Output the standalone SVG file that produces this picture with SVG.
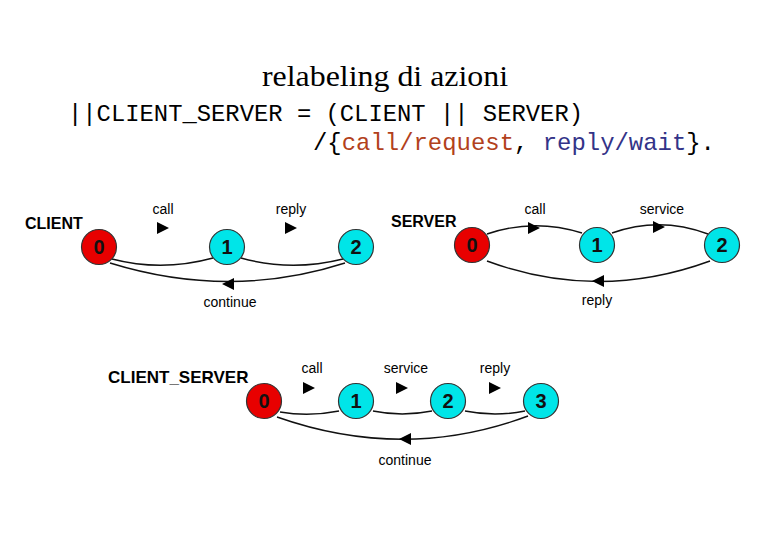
<svg xmlns="http://www.w3.org/2000/svg" width="780" height="540" viewBox="0 0 780 540">
<style>
.title{font-family:"Liberation Serif",serif;font-size:30px;fill:#000}
.code{font-family:"Liberation Mono",monospace;font-size:24px;fill:#000}
.req{fill:#B2411C}
.wait{fill:#333388}
.lbl{font-family:"Liberation Sans",Arial,sans-serif;font-size:14px;fill:#000;text-anchor:middle}
.name{font-family:"Liberation Sans",Arial,sans-serif;font-size:16px;font-weight:bold;fill:#000}
.num{font-family:"Liberation Sans",Arial,sans-serif;font-size:20px;font-weight:bold;fill:#111;text-anchor:middle}
.st0{fill:#E80000;stroke:#333;stroke-width:1.2}
.st{fill:#00E5E8;stroke:#333;stroke-width:1.2}
.edge{fill:none;stroke:#111;stroke-width:1.4}
.ah{fill:#000}
</style>
<defs>
<path id="tri" d="M-6,-6 L6,0 L-6,6 Z"/>
<path id="tril" d="M6,-6 L-6,0 L6,6 Z"/>
</defs>
<rect width="780" height="540" fill="#fff"/>
<text class="title" x="385" y="86" text-anchor="middle" textLength="246" lengthAdjust="spacingAndGlyphs">relabeling di azioni</text>
<text class="code" x="68" y="121" textLength="515" lengthAdjust="spacingAndGlyphs">||CLIENT_SERVER = (CLIENT || SERVER)</text>
<text class="code" x="313" y="150" textLength="402" lengthAdjust="spacingAndGlyphs">/{<tspan class="req">call/request</tspan>, <tspan class="wait">reply/wait</tspan>}.</text>

<g id="connectors">
<!-- CLIENT -->
<path class="edge" d="M112,259 Q162,272 213,258"/>
<path class="edge" d="M241,258 Q291,272 343,259"/>
<path class="edge" d="M345,263 Q230,300 110,263"/>
<use href="#tri" class="ah" x="163" y="228"/>
<use href="#tri" class="ah" x="291" y="228"/>
<use href="#tril" class="ah" x="228" y="284"/>
<!-- SERVER -->
<path class="edge" d="M487,234 Q534,218 582,233"/>
<path class="edge" d="M612,233 Q660,216 708,234"/>
<path class="edge" d="M710,261 Q598,302 487,261"/>
<use href="#tri" class="ah" x="534" y="228"/>
<use href="#tri" class="ah" x="659" y="227"/>
<use href="#tril" class="ah" x="598" y="281"/>
<!-- CLIENT_SERVER -->
<path class="edge" d="M280,412 Q309,417 339,411"/>
<path class="edge" d="M373,411 Q402,417 432,411"/>
<path class="edge" d="M465,411 Q495,417 525,411"/>
<path class="edge" d="M528,416 Q405,462 277,417"/>
<use href="#tri" class="ah" x="309" y="388"/>
<use href="#tri" class="ah" x="402" y="388"/>
<use href="#tri" class="ah" x="495" y="388"/>
<use href="#tril" class="ah" x="405" y="439"/>
</g>

<g id="client">
<text class="name" x="25" y="229">CLIENT</text>
<text class="lbl" x="163" y="214">call</text>
<text class="lbl" x="291" y="214">reply</text>
<text class="lbl" x="230" y="307">continue</text>
<g id="client-s0"><circle class="st0" cx="99" cy="247" r="17.5"/><text class="num" x="99" y="254">0</text></g>
<g id="client-s1"><circle class="st" cx="227" cy="247" r="17.5"/><text class="num" x="227" y="254">1</text></g>
<g id="client-s2"><circle class="st" cx="356" cy="247" r="17.5"/><text class="num" x="356" y="254">2</text></g>
</g>

<g id="server">
<text class="name" x="391" y="227">SERVER</text>
<text class="lbl" x="535" y="214">call</text>
<text class="lbl" x="662" y="214">service</text>
<text class="lbl" x="597" y="305">reply</text>
<g id="server-s0"><circle class="st0" cx="472" cy="245" r="17.5"/><text class="num" x="472" y="252">0</text></g>
<g id="server-s1"><circle class="st" cx="597" cy="245" r="17.5"/><text class="num" x="597" y="252">1</text></g>
<g id="server-s2"><circle class="st" cx="722" cy="245" r="17.5"/><text class="num" x="722" y="252">2</text></g>
</g>

<g id="client_server">
<text class="name" x="108" y="383" style="font-size:17px">CLIENT_SERVER</text>
<text class="lbl" x="312" y="373">call</text>
<text class="lbl" x="406" y="373">service</text>
<text class="lbl" x="495" y="373">reply</text>
<text class="lbl" x="405" y="465">continue</text>
<g id="cs-s0"><circle class="st0" cx="264" cy="401" r="17.5"/><text class="num" x="264" y="408">0</text></g>
<g id="cs-s1"><circle class="st" cx="356" cy="401" r="17.5"/><text class="num" x="356" y="408">1</text></g>
<g id="cs-s2"><circle class="st" cx="448" cy="401" r="17.5"/><text class="num" x="448" y="408">2</text></g>
<g id="cs-s3"><circle class="st" cx="541" cy="401" r="17.5"/><text class="num" x="541" y="408">3</text></g>
</g>
</svg>
